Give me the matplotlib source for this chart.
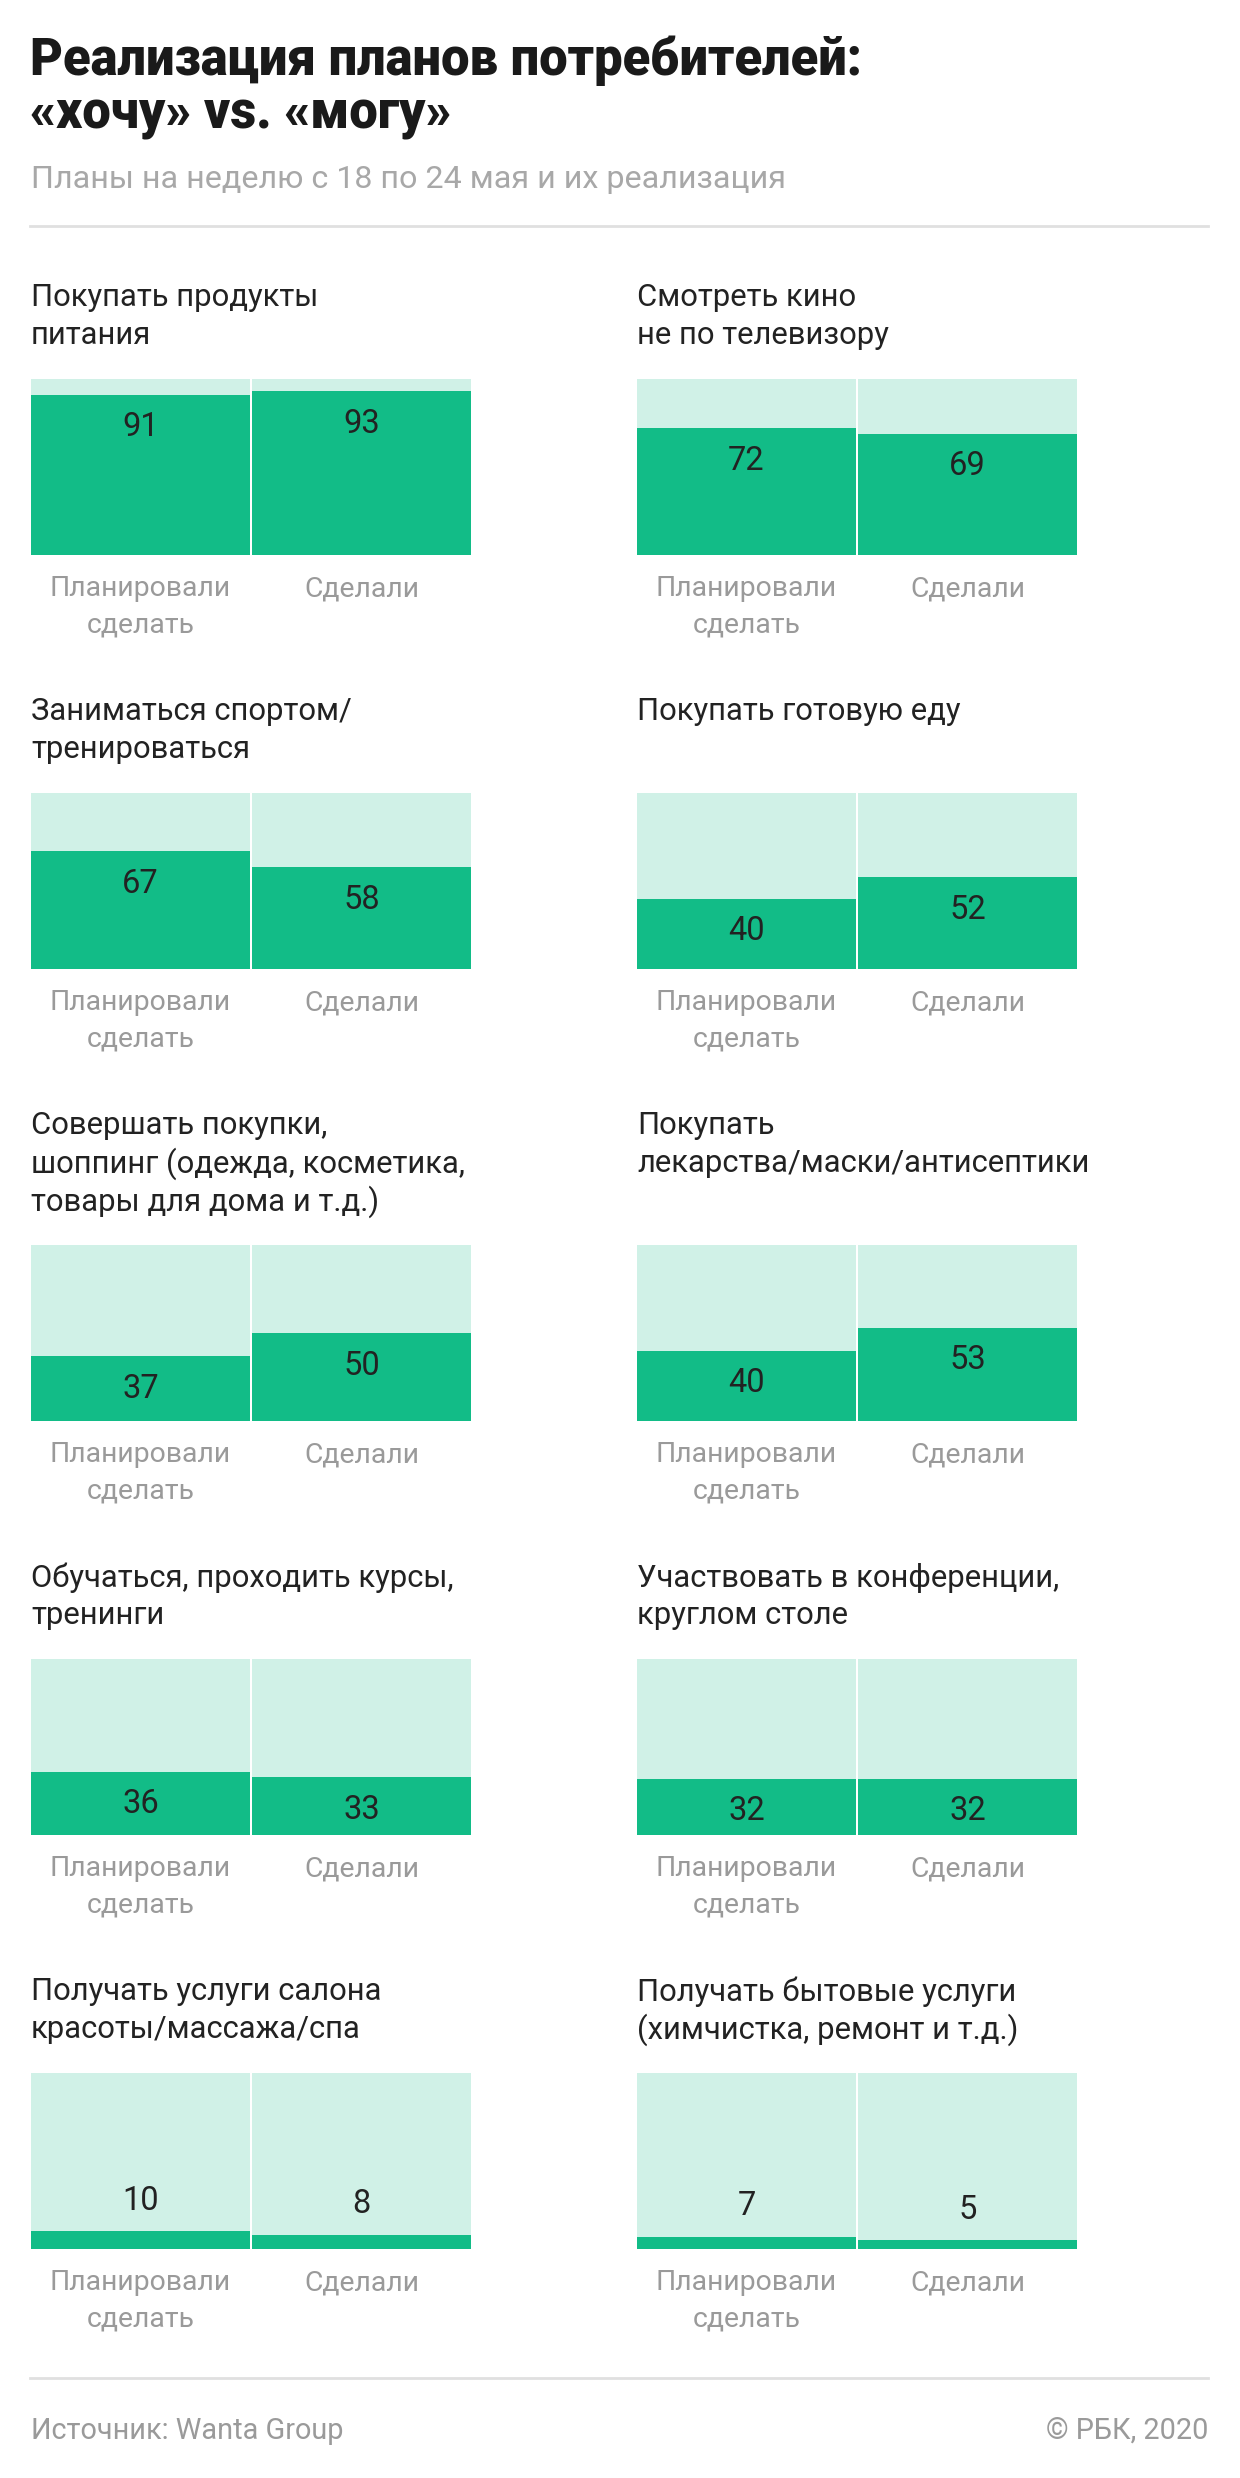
import matplotlib
matplotlib.use("Agg")
import matplotlib.pyplot as plt

plt.rcParams['font.family'] = ['Roboto', 'DejaVu Sans']

# data
titles = [
    "Покупать продукты\nпитания",
    "Смотреть кино\nне по телевизору",
    "Заниматься спортом/\nтренироваться",
    "Покупать готовую еду",
    "Совершать покупки,\nшоппинг (одежда, косметика,\nтовары для дома и т.д.)",
    "Покупать\nлекарства/маски/антисептики",
    "Обучаться, проходить курсы,\nтренинги",
    "Участвовать в конференции,\nкруглом столе",
    "Получать услуги салона\nкрасоты/массажа/спа",
    "Получать бытовые услуги\n(химчистка, ремонт и т.д.)",
]
planned = [91, 72, 67, 40, 37, 40, 36, 32, 10, 7]
done = [93, 69, 58, 52, 50, 53, 33, 32, 8, 5]
cat_labels = ["Планировали\nсделать", "Сделали"]

DARK = "#12bc87"
LIGHT = "#d0f1e7"
TEXT = "#222222"
GRAY = "#9a9a9a"

W, H = 1240, 2478
fig = plt.figure(figsize=(W / 100, H / 100), dpi=100)
bg = fig.add_axes([0, 0, 1, 1])
bg.set_xlim(0, W)
bg.set_ylim(H, 0)
bg.axis("off")

# header
bg.text(30, 61, "Реализация планов потребителей:", fontsize=36.5, fontweight="black",
        color="#1a1a1a", va="center", ha="left")
bg.text(30, 115, "«хочу» vs. «могу»", fontsize=36.5, fontweight="black",
        color="#1a1a1a", va="center", ha="left")
bg.text(31, 179, "Планы на неделю с 18 по 24 мая и их реализация", fontsize=23.2,
        color="#a8a8a8", va="center", ha="left")
bg.plot([30, 1208], [226, 226], color="#e0e0e0", lw=2)

# panels
col_x = [30, 636]
panel_w = 442
bar_h = 176
line_gap = 38
top = 379
for r in range(5):
    pair = [2 * r, 2 * r + 1]
    nlines = max(len(titles[i].split("\n")) for i in pair)
    if r > 0:
        top += 414 + line_gap * (nlines - 2)
    first_line = top - 81 - line_gap * (nlines - 2)
    for c, i in enumerate(pair):
        x0 = col_x[c]
        for k, line in enumerate(titles[i].split("\n")):
            bg.text(x0 + 1, first_line + k * line_gap, line, fontsize=22.3, color=TEXT,
                    va="center", ha="left")

        ax = fig.add_axes([x0 / W, 1 - (top + bar_h) / H, panel_w / W, bar_h / H])
        vals = [planned[i], done[i]]
        xs = [0, 1]
        ax.bar(xs, vals, width=0.991, color=DARK, linewidth=0)
        ax.bar(xs, [100 - v for v in vals], bottom=vals, width=0.991, color=LIGHT, linewidth=0)
        ax.set_xlim(-0.5, 1.5)
        ax.set_ylim(0, 100)
        ax.axis("off")
        for xi, v in zip(xs, vals):
            off = -23.5 if v >= 20 else 22
            ax.annotate(str(v), (xi, v), xytext=(0, off), textcoords="offset points",
                        ha="center", va="center", fontsize=23.5, color=TEXT)

        # category labels under bars
        for j, lab in enumerate(cat_labels):
            cx = x0 + panel_w / 4 + j * panel_w / 2
            for k, line in enumerate(lab.split("\n")):
                bg.text(cx, top + bar_h + 34 + k * 36, line, fontsize=20.4, color=GRAY,
                        ha="center", va="center")

# footer
bg.plot([30, 1208], [2378, 2378], color="#e0e0e0", lw=2)
bg.text(31, 2431, "Источник: Wanta Group", fontsize=20.8, color=GRAY, va="center", ha="left")
bg.text(1208, 2431, "© РБК, 2020", fontsize=20.8, color=GRAY, va="center", ha="right")

fig.savefig("out.png", dpi=100)
